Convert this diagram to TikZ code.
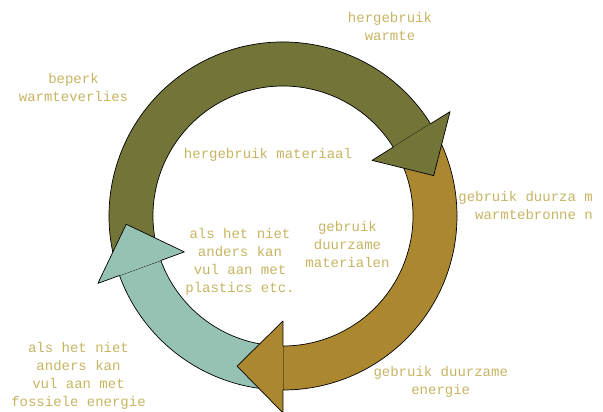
\documentclass[tikz,border=0pt]{standalone}
\usepackage{fontspec}
\newfontfamily\labelfont{Liberation Mono}
\definecolor{olivering}{RGB}{115,116,56}
\definecolor{goldring}{RGB}{171,136,48}
\definecolor{tealring}{RGB}{150,194,179}
\definecolor{labeltext}{RGB}{198,180,98}
\def\rin{130}
\def\rout{174}
\tikzset{
  ringpart/.style={draw=black, line width=0.7pt, line join=round},
  ringhead/.style={line width=0.7pt, line join=round},
  cyclelabel/.style={text=labeltext, align=center, inner sep=0pt,
    font=\labelfont\fontsize{14}{18}\selectfont}
}
\begin{document}
\begin{tikzpicture}[x=1pt, y=1pt]
      \useasboundingbox (-283,-196) rectangle (320,216);
      \filldraw[ringpart, fill=olivering] (196:\rin) arc[start angle=196, end angle=32, radius=\rin] -- (32:\rout) arc[start angle=32, end angle=196, radius=\rout] -- cycle;
      \filldraw[ringpart, fill=goldring] (28:\rin) arc[start angle=28, end angle=-90, radius=\rin] -- (-90:\rout) arc[start angle=-90, end angle=28, radius=\rout] -- cycle;
      \filldraw[ringpart, fill=tealring] (-94:\rin) arc[start angle=-94, end angle=-160, radius=\rin] -- (-160:\rout) arc[start angle=-160, end angle=-94, radius=\rout] -- cycle;
      \fill[olivering] (32:105) -- (32:197) -- (15:156) -- cycle;
      \draw[ringhead] (32:\rout) -- (32:197) -- (15:156) -- (32:105) -- (32:\rin);
      \fill[goldring] (-90:105) -- (-90:197) -- (-107:157) -- cycle;
      \draw[ringhead] (-90:\rout) -- (-90:197) -- (-107:157) -- (-90:105) -- (-90:\rin);
      \fill[tealring] (-160:105) -- (-160:197) -- (-177:157) -- cycle;
      \draw[ringhead] (-160:\rout) -- (-160:197) -- (-177:157) -- (-160:105) -- (-160:\rin);
      \node[cyclelabel] (warmte) at (107,189.5) {hergebruik\\warmte};
      \node[cyclelabel] (verlies) at (-209.5,128.5) {beperk\\warmteverlies};
      \node[cyclelabel] (materiaal) at (-15,61) {hergebruik materiaal};
      \node[cyclelabel, align=right, anchor=east] (bronnen) at (310,10.5) {gebruik duurza m\\warmtebronne n};
      \node[cyclelabel] (materialen) at (64.5,-28) {gebruik\\duurzame\\materialen};
      \node[cyclelabel] (plastics) at (-43,-45.5) {als het niet\\anders kan\\vul aan met\\plastics etc.};
      \node[cyclelabel] (fossiel) at (-204.5,-159.75) {als het niet\\anders kan\\vul aan met\\fossiele energie};
      \node[cyclelabel] (energie) at (157.75,-165.5) {gebruik duurzame\\energie};
\end{tikzpicture}
\end{document}
